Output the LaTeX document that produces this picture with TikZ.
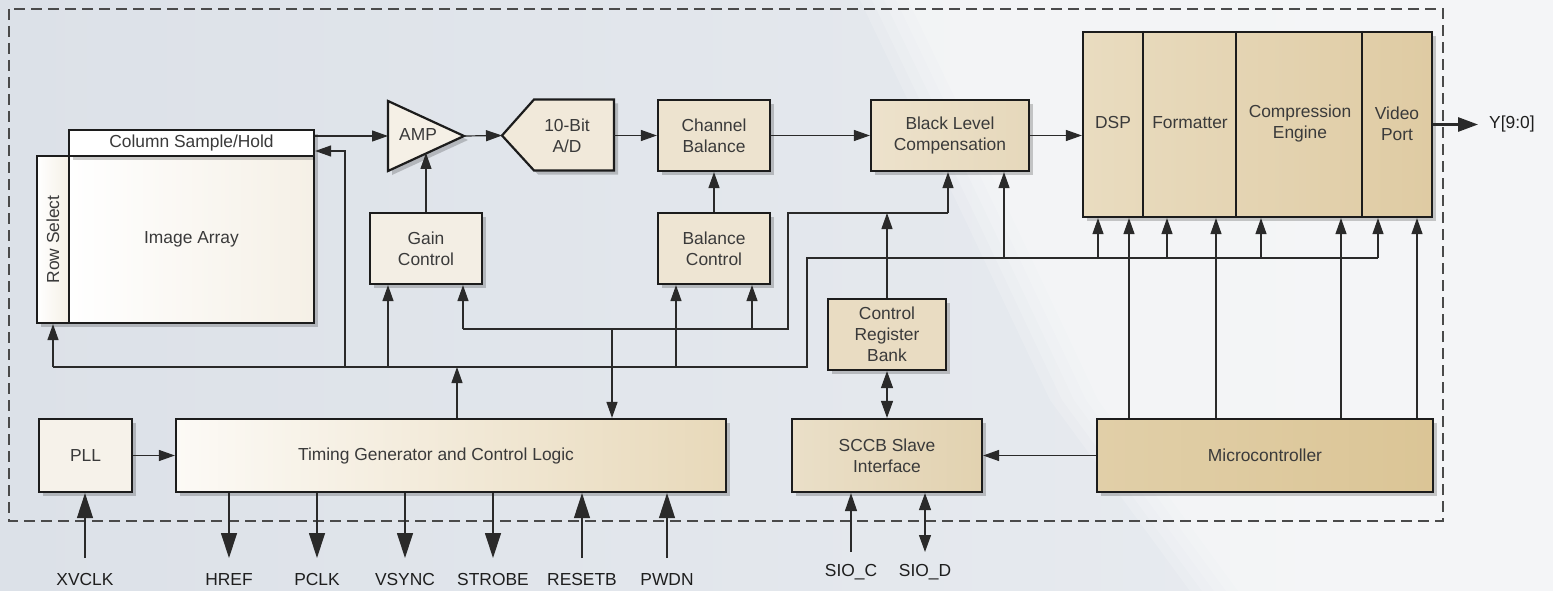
\documentclass[tikz,border=0pt]{standalone}
\usepackage{fontspec}
\setmainfont{Liberation Sans}
\usepackage{graphicx}
\usetikzlibrary{arrows.meta,shadows}
\definecolor{txt}{HTML}{3A3A3A}
\definecolor{lbl}{HTML}{1E1E1E}
\definecolor{bgA}{HTML}{DCE1E8}
\definecolor{bgB}{HTML}{EAEDF1}
\definecolor{wireC}{HTML}{2A2A2A}
\definecolor{edge}{HTML}{1C1C1C}
\definecolor{dashC}{HTML}{4A4A4A}
\definecolor{whiteR}{HTML}{F5F0E6}
\definecolor{pllF}{HTML}{F6F2EA}
\definecolor{ampF}{HTML}{F5F0E6}
\definecolor{adF}{HTML}{F1E9DA}
\definecolor{gainF}{HTML}{F3EEE4}
\definecolor{chbF}{HTML}{EDE3CF}
\definecolor{balcF}{HTML}{EEE5D3}
\definecolor{blcL}{HTML}{EDE2CC}
\definecolor{blcR}{HTML}{E6D8BB}
\definecolor{crbF}{HTML}{E9DCC2}
\definecolor{sccbL}{HTML}{EADFC8}
\definecolor{sccbR}{HTML}{E2D2B0}
\definecolor{tgL}{HTML}{FCFAF6}
\definecolor{tgR}{HTML}{E8D9BA}
\definecolor{dspL}{HTML}{E9DCC0}
\definecolor{dspR}{HTML}{DFCBA3}
\definecolor{microL}{HTML}{E1CFA8}
\definecolor{microR}{HTML}{DBC596}
\begin{document}
\begin{tikzpicture}[x=1pt,y=-1pt,
  font=\fontsize{17.4}{21}\selectfont,
  shad/.style={drop shadow={shadow xshift=4pt, shadow yshift=-4pt, opacity=.2, fill=black}},
  blk/.style={draw=edge, line width=2.2pt, inner sep=0pt, align=center, text=txt, shad},
  shp/.style={draw=edge, line width=2.2pt, shad},
  wire/.style={line width=1.2pt, draw=wireC},
  arr/.style={wire, -{Triangle[length=16pt,width=11pt]}},
  darr/.style={wire, {Triangle[length=17pt,width=12pt]}-{Triangle[length=17pt,width=12pt]}},
  bigarr/.style={wire, -{Triangle[length=25pt,width=16pt]}},
  midarr/.style={wire, -{Triangle[length=18pt,width=12pt]}},
  lab/.style={inner sep=0pt, anchor=base, text=lbl},
  intext/.style={text=txt, align=center, inner sep=0pt},
]
\useasboundingbox (0,0) rectangle (1553,591);
% background
\shade[left color=bgA, right color=bgB] (0,0) rectangle (1553,591);
\foreach \d in {0,12,24,36,48}
  \fill[white, opacity=.16] ({860+\d},0) -- (1553,0) -- (1553,591) -- ({1190+\d},591) -- ({1050+\d},400) -- ({970+\d},230) -- cycle;
% dashed outline
\draw[dashC, line width=1.4pt, dash pattern=on 11pt off 6pt] (9,9) rectangle (1443,521);

% image sensor
\node[blk, left color=white, right color=whiteR, minimum width=32pt, minimum height=167pt] (rs) at (53,239.5) {\rotatebox{90}{Row Select}};
\node[blk, left color=white, right color=whiteR, minimum width=245pt, minimum height=167pt] (ia) at (191.5,239.5) {Image Array};
\node[blk, fill=white, minimum width=245pt, minimum height=26pt] (sh) at (191.5,143) {Column Sample/Hold};

% AMP
\path[shp, fill=ampF] (388,101) -- (464,136) -- (388,171) -- cycle;
\node[intext] (amp) at (418,135) {AMP};
\coordinate (ampin) at (388,136);
\coordinate (ampout) at (464,136);
\coordinate (ampbot) at (427,153);

% A/D
\path[shp, fill=adF] (502,135.5) -- (534,99.5) -- (614,99.5) -- (614,170.5) -- (534,170.5) -- cycle;
\node[intext] (ad) at (567,135.5) {10-Bit\\A/D};
\coordinate (adin) at (502,135.5);
\coordinate (adout) at (614,135.5);

% boxes
\node[blk, fill=chbF, minimum width=112pt, minimum height=71pt] (chb) at (714,135.5) {Channel\\Balance};
\node[blk, left color=blcL, right color=blcR, minimum width=158pt, minimum height=71pt] (blc) at (950,135.5) {Black Level\\Compensation};
\node[blk, fill=gainF, minimum width=112pt, minimum height=71pt] (gain) at (426,248.5) {Gain\\Control};
\node[blk, fill=balcF, minimum width=112pt, minimum height=71pt] (balc) at (714,248.5) {Balance\\Control};
\node[blk, fill=crbF, minimum width=118pt, minimum height=71pt] (crb) at (887,334.5) {Control\\Register\\Bank};
\node[blk, left color=sccbL, right color=sccbR, minimum width=190pt, minimum height=73pt] (sccb) at (887,455.5) {SCCB Slave\\Interface};
\node[blk, fill=pllF, minimum width=93pt, minimum height=73pt] (pll) at (85.5,455.5) {PLL};
\node[blk, left color=tgL, right color=tgR, minimum width=550pt, minimum height=73pt] (tg) at (451,455.5) {};
\node[intext] (tgtext) at (436,456) {Timing Generator and Control Logic};
\node[blk, left color=microL, right color=microR, minimum width=336pt, minimum height=73pt] (micro) at (1265,455.5) {Microcontroller};

% DSP block
\node[blk, left color=dspL, right color=dspR, minimum width=349pt, minimum height=185pt] (dsp) at (1257.5,124.5) {};
\foreach \dx in {61,154,280}
  \draw[edge, line width=2pt] ([xshift=\dx pt]dsp.north west) -- ([xshift=\dx pt]dsp.south west);
\node[intext] (dspt) at (1113,123) {DSP};
\node[intext] (fmt) at (1190,123) {Formatter};
\node[intext] (ce) at (1300,124) {Compression\\Engine};
\node[intext] (vp) at (1397,124) {Video\\Port};

% main path
\draw[arr] (sh.east |- ampin) -- (ampin);
\draw[arr] (ampout) -- (adin);
\draw[arr] (adout) -- (chb.west);
\draw[arr] (chb.east) -- (blc.west);
\draw[arr] (blc.east) -- (dsp.west |- blc.east);
\coordinate (yend) at (1478,124.5);
\draw[line width=2.8pt, draw=wireC, -{Triangle[length=20pt,width=14pt]}] (dsp.east) -- (yend);
\node[inner sep=0pt, anchor=west, text=lbl] (ylab) at (1489,124.5) {Y[9:0]};
\draw[arr] (gain.north) -- (gain.north |- ampbot);
\draw[arr] (balc.north) -- (chb.south);

% bus coordinates
\coordinate (tRS) at (53,367);
\coordinate (jA2) at (807,367);
\coordinate (jB1) at (807,258);
\coordinate (jB2) at (1378,258);
\coordinate (tSH) at (345,367);
\coordinate (tSHtop) at (345,151);
\coordinate (tG1) at (388,367);
\coordinate (tTG) at (457,367);
\coordinate (tBC1) at (676,367);
\coordinate (tG2) at (463,329);
\coordinate (tTG2) at (612,329);
\coordinate (tBC2) at (752,329);
\coordinate (jC2) at (788,329);
\coordinate (jD1) at (788,213);
\coordinate (tBLC1) at (948,213);
\coordinate (tBLC2) at (1004,258);

\draw[wire] (tRS) -- (jA2) -- (jB1) -- (jB2);
\draw[arr] (tRS) -- (rs.south);
\draw[arr] (tSH) -- (tSHtop) -- (sh.east |- tSHtop);
\draw[arr] (tG1) -- (tG1 |- gain.south);
\draw[arr] (tTG |- tg.north) -- (tTG);
\draw[arr] (tBC1) -- (tBC1 |- balc.south);
\draw[wire] (tG2) -- (jC2) -- (jD1) -- (tBLC1);
\draw[arr] (tG2) -- (tG2 |- gain.south);
\draw[arr] (tTG2) -- (tTG2 |- tg.north);
\draw[arr] (tBC2) -- (tBC2 |- balc.south);
\draw[arr] (tBLC1) -- (tBLC1 |- blc.south);
\draw[arr] (tBLC2) -- (tBLC2 |- blc.south);
\draw[arr] (crb.north) -- (crb.north |- jD1);
\foreach \x in {1098,1167,1261,1378}{
  \coordinate (tD) at (\x,258);
  \draw[arr] (tD) -- (tD |- dsp.south);
}
\foreach \x in {1129,1216,1341,1417}{
  \coordinate (tM) at (\x,0);
  \draw[arr] (tM |- micro.north) -- (tM |- dsp.south);
}
\draw[arr] (micro.west) -- (sccb.east);
\draw[darr] (crb.south) -- (sccb.north);
\draw[arr] (pll.east) -- (tg.west);

% external pins
\node[lab] (xvclk) at (85,585) {XVCLK};
\node[lab] (href) at (229,585) {HREF};
\node[lab] (pclk) at (317,585) {PCLK};
\node[lab] (vsync) at (405,585) {VSYNC};
\node[lab] (strobe) at (493,585) {STROBE};
\node[lab] (resetb) at (582,585) {RESETB};
\node[lab] (pwdn) at (667,585) {PWDN};
\node[lab] (sioc) at (851,576) {SIO\_C};
\node[lab] (siod) at (925,576) {SIO\_D};

\draw[bigarr] ([yshift=27pt]xvclk.base) -- (xvclk.base |- pll.south);
\foreach \n in {href,pclk,vsync,strobe}
  \draw[bigarr] (\n.base |- tg.south) -- ([yshift=27pt]\n.base);
\foreach \n in {resetb,pwdn}
  \draw[bigarr] ([yshift=27pt]\n.base) -- (\n.base |- tg.south);
\draw[midarr] ([yshift=24pt]sioc.base) -- (sioc.base |- sccb.south);
\draw[darr] ([yshift=24pt]siod.base) -- (siod.base |- sccb.south);
\end{tikzpicture}
\end{document}
